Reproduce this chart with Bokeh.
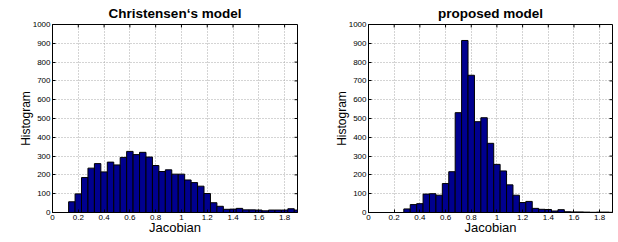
import math
from bokeh.plotting import figure
from bokeh.models import Range1d, FixedTicker, CustomJSTickFormatter
from bokeh.layouts import row
from bokeh.embed import file_html
from bokeh.resources import INLINE

# ---- data -----------------------------------------------------------------
bin_centers = [0.0, 0.05, 0.1, 0.15, 0.2, 0.25, 0.3, 0.35, 0.4, 0.45,
               0.5, 0.55, 0.6, 0.65, 0.7, 0.75, 0.8, 0.85, 0.9, 0.95,
               1.0, 1.05, 1.1, 1.15, 1.2, 1.25, 1.3, 1.35, 1.4, 1.45,
               1.5, 1.55, 1.6, 1.65, 1.7, 1.75, 1.8, 1.85, 1.9]
bin_width = 0.05

christensen_counts = [0, 0, 0, 57, 99, 186, 236, 260, 216, 268,
                      253, 293, 325, 308, 320, 295, 250, 218, 227, 204,
                      204, 173, 159, 140, 101, 52, 33, 17, 18, 22,
                      14, 14, 13, 9, 13, 13, 13, 20, 13]

proposed_counts = [0, 0, 0, 0, 0, 0, 19, 42, 47, 98,
                   100, 92, 154, 217, 531, 915, 730, 483, 504, 368,
                   256, 221, 147, 92, 53, 59, 22, 17, 16, 8,
                   15, 4, 3, 3, 2, 1, 2, 2, 1]

x_ticks = [0, 0.2, 0.4, 0.6, 0.8, 1, 1.2, 1.4, 1.6, 1.8]
y_ticks = [0, 100, 200, 300, 400, 500, 600, 700, 800, 900, 1000]
x_limits = (0, 1.9)
y_limits = (0, 1000)

titles = ["Christensen\u2018s model", "proposed model"]
x_label = "Jacobian"
y_label = "Histogram"

FONT = "Liberation Sans"
BAR = "#00008F"


def make_panel(title, counts, width, left, right):
    p = figure(width=width, height=242,
               x_range=Range1d(*x_limits), y_range=Range1d(*y_limits),
               output_backend="svg", toolbar_location=None,
               min_border_left=left, min_border_right=right,
               min_border_top=23, min_border_bottom=30)
    p.vbar(x=bin_centers, top=counts, width=bin_width,
           fill_color=BAR, line_color="black", line_width=1)

    # inward ticks on the top and right edges (MATLAB box style)
    p.ray(x=x_ticks, y=[y_limits[1]] * len(x_ticks), length=3,
          length_units="screen", angle=-math.pi / 2,
          line_color="black", line_width=1)
    p.ray(x=[x_limits[1]] * len(y_ticks), y=y_ticks, length=3,
          length_units="screen", angle=math.pi,
          line_color="black", line_width=1)

    p.title.text = title
    p.title.align = "center"
    p.title.text_font = FONT
    p.title.text_font_size = "13.5px"
    p.title.text_font_style = "bold"
    p.title.text_color = "black"
    p.title.standoff = 7

    fmt = CustomJSTickFormatter(code="return String(Math.round(tick*10)/10);")

    xa = p.xaxis[0]
    xa.ticker = FixedTicker(ticks=x_ticks)
    xa.formatter = fmt
    ya = p.yaxis[0]
    ya.ticker = FixedTicker(ticks=y_ticks)

    for ax in (xa, ya):
        ax.major_tick_in = 3
        ax.major_tick_out = 0
        ax.minor_tick_in = 0
        ax.minor_tick_out = 0
        ax.axis_line_color = "black"
        ax.major_tick_line_color = "black"
        ax.major_label_text_font = FONT
        ax.major_label_text_font_size = "8px"
        ax.major_label_text_color = "black"
        ax.axis_label_text_font = FONT
        ax.axis_label_text_font_style = "normal"
        ax.axis_label_text_color = "black"
        ax.major_label_standoff = 2

    xa.axis_label = x_label
    xa.axis_label_text_font_size = "13px"
    xa.axis_label_standoff = -3
    ya.axis_label = y_label
    ya.axis_label_text_font_size = "12px"
    ya.axis_label_standoff = -3

    p.xgrid.ticker = FixedTicker(ticks=x_ticks)
    p.ygrid.ticker = FixedTicker(ticks=y_ticks)
    for g in (p.xgrid, p.ygrid):
        g.grid_line_color = "#a8a8a8"
        g.grid_line_dash = "1 2"
        g.grid_line_width = 1

    p.outline_line_color = "black"
    p.outline_line_alpha = 1
    p.background_fill_color = "white"
    p.border_fill_color = "white"
    return p


p1 = make_panel(titles[0], christensen_counts, 309, 52, 12)
p2 = make_panel(titles[1], proposed_counts, 309, 59, 6)

layout = row(p1, p2)
open("out.html", "w").write(file_html(layout, INLINE))
